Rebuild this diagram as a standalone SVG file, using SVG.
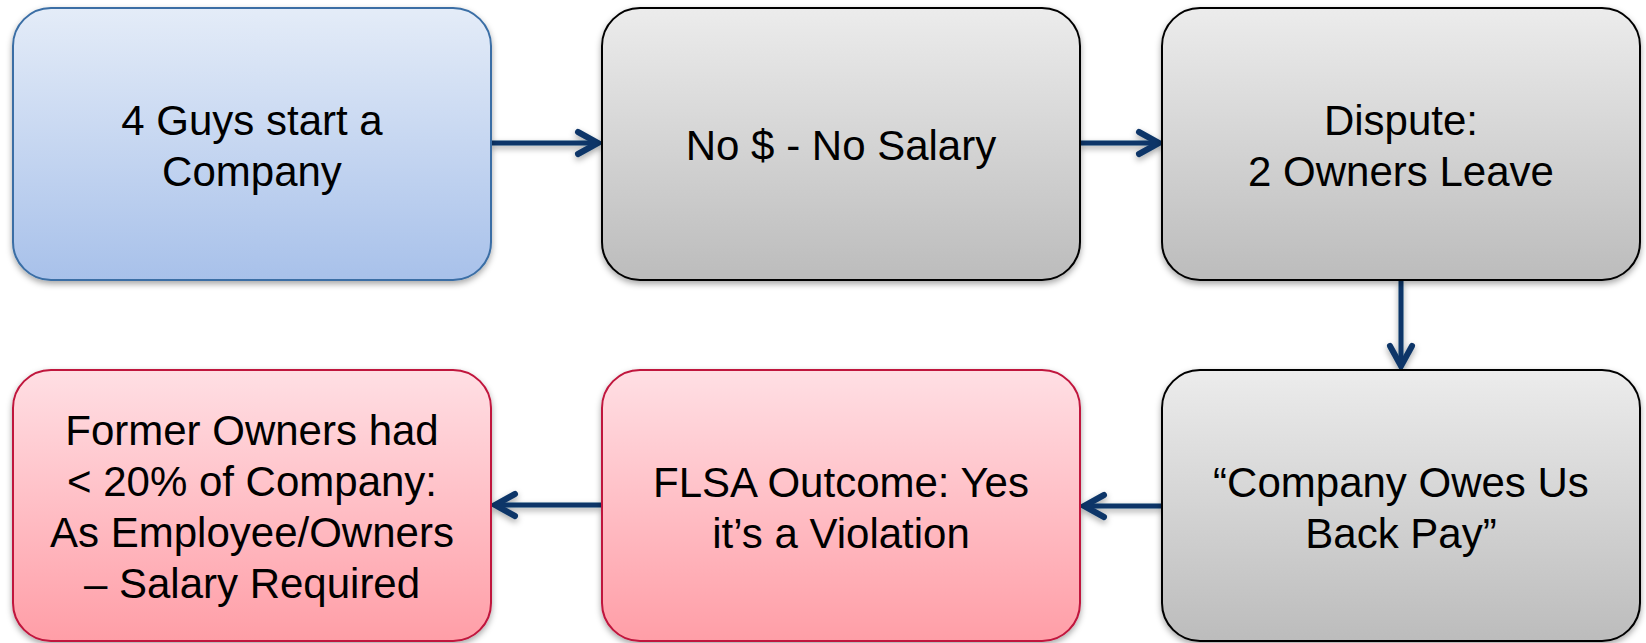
<svg xmlns="http://www.w3.org/2000/svg" width="1646" height="643" viewBox="0 0 1646 643">
<defs>
<linearGradient id="gBlue" x1="0" y1="0" x2="0" y2="1"><stop offset="0" stop-color="#E4ECF8"/><stop offset="1" stop-color="#A8C1EA"/></linearGradient>
<linearGradient id="gGray" x1="0" y1="0" x2="0" y2="1"><stop offset="0" stop-color="#ECECEC"/><stop offset="1" stop-color="#BCBCBC"/></linearGradient>
<linearGradient id="gPink" x1="0" y1="0" x2="0" y2="1"><stop offset="0" stop-color="#FFDFE4"/><stop offset="1" stop-color="#FF9EA7"/></linearGradient>
<filter id="sh" x="-5%" y="-5%" width="110%" height="115%"><feDropShadow dx="0" dy="3" stdDeviation="3" flood-color="#000" flood-opacity="0.35"/></filter>
<marker id="ah" markerUnits="userSpaceOnUse" viewBox="-26 -14 30 28" markerWidth="30" markerHeight="28" refX="0" refY="0" orient="auto" overflow="visible">
<path d="M -20 -11 L 0 0 L -20 11" fill="none" stroke="#0B3668" stroke-width="6" stroke-linecap="round" stroke-linejoin="miter"/>
</marker>
</defs>
<style>
.box{stroke-width:2}
.blue{fill:url(#gBlue);stroke:#3A6EA5}
.gray{fill:url(#gGray);stroke:#000}
.pink{fill:url(#gPink);stroke:#C0143C}
text{font-family:"Liberation Sans",Arial,sans-serif;font-size:42px;fill:#000;text-anchor:middle}
.conn{stroke:#0B3668;stroke-width:5;fill:none;marker-end:url(#ah)}
</style>
<g id="connectors" filter="url(#sh)">
<line class="conn" x1="491" y1="143" x2="598" y2="143"/>
<line class="conn" x1="1080" y1="143" x2="1159" y2="143"/>
<line class="conn" x1="1401" y1="281" x2="1401" y2="366"/>
<line class="conn" x1="1162" y1="506" x2="1084" y2="506"/>
<line class="conn" x1="601" y1="505" x2="495" y2="505"/>
</g>
<g id="n1">
<rect class="box blue" x="13" y="8" width="478" height="272" rx="38" filter="url(#sh)"/>
<text x="252" y="135">4 Guys start a</text>
<text x="252" y="186">Company</text>
</g>
<g id="n2">
<rect class="box gray" x="602" y="8" width="478" height="272" rx="38" filter="url(#sh)"/>
<text x="841" y="160">No $ - No Salary</text>
</g>
<g id="n3">
<rect class="box gray" x="1162" y="8" width="478" height="272" rx="38" filter="url(#sh)"/>
<text x="1401" y="135">Dispute:</text>
<text x="1401" y="186">2 Owners Leave</text>
</g>
<g id="n4">
<rect class="box gray" x="1162" y="370" width="478" height="271" rx="38" filter="url(#sh)"/>
<text x="1401" y="497">“Company Owes Us</text>
<text x="1401" y="548">Back Pay”</text>
</g>
<g id="n5">
<rect class="box pink" x="602" y="370" width="478" height="271" rx="38" filter="url(#sh)"/>
<text x="841" y="497">FLSA Outcome: Yes</text>
<text x="841" y="548">it’s a Violation</text>
</g>
<g id="n6">
<rect class="box pink" x="13" y="370" width="478" height="271" rx="38" filter="url(#sh)"/>
<text x="252" y="445">Former Owners had</text>
<text x="252" y="496">&lt; 20% of Company:</text>
<text x="252" y="547">As Employee/Owners</text>
<text x="252" y="598">– Salary Required</text>
</g>
</svg>
